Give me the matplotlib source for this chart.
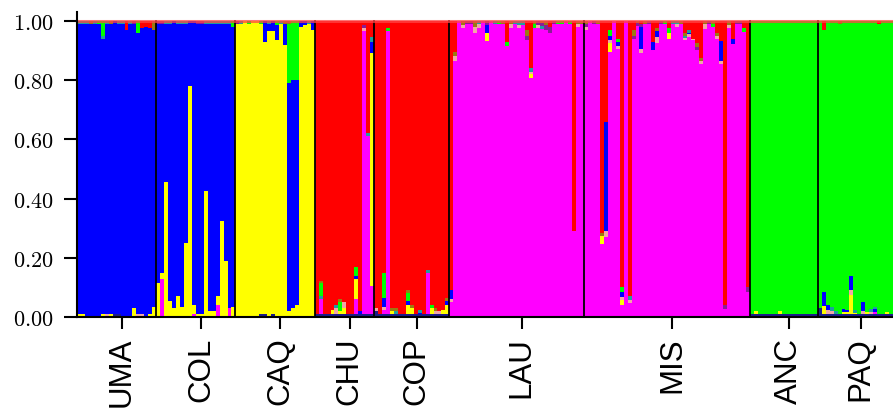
import numpy as np
import matplotlib
matplotlib.use("Agg")
import matplotlib.pyplot as plt
from matplotlib.ticker import FuncFormatter

# populations, left to right
POP_NAMES = ["UMA", "COL", "CAQ", "CHU", "COP", "LAU", "MIS", "ANC", "PAQ"]
POP_SIZES = [20, 20, 20, 15, 19, 34, 42, 17, 19]
POP_MAIN = ["B", "B", "Y", "R", "R", "M", "M", "G", "G"]

# cluster codes, stacked bottom -> top
CLUSTER_ORDER = ["n", "M", "Y", "s", "B", "t", "G", "p", "o", "R"]
CLUSTER_COLORS = {
    "n": "#1c1c8a", "M": "#ff00ff", "Y": "#ffff00", "s": "#f2a6a6",
    "B": "#0000ff", "t": "#1f9e9e", "G": "#00ff00", "p": "#8a1c96",
    "o": "#9a7a12", "R": "#ff0000",
}

# thin slivers (one char per individual, '.' = none)
SLIVER_Q = 0.01
TOP_SLIVERS = [
    "tttotGtto." "ttRtpGRRRo",
    "pptt.ttt.." "pptttttttG",
    "pt.G..G..." ".too....t.",
    ".........." ".....",
    ".........." ".........",
    "....pp...." ".t.o..t..." ".......GG." "G...",
    "..p......." "......p..p" "G.t......." ".p........" "..",
    ".........." ".......",
    ".R...o...." ".....R...",
]
BOTTOM_SLIVERS = [
    "YY....YsYn" "n...Yss.YY",
    ".........." "YY........",
    "......nn.n" "..........",
    "nnnnnnnnnn" "nnnnn",
    "nnnnnnnnnn" "nnnnnnnnn",
    ".........." ".........." ".........." "....",
    ".........." ".........." ".........." ".........." "..",
    "nnnnnnnnnn" "nnnnnnn",
    "nnnnnnnnnn" "nnnnnnnnn",
]

# individuals with visible admixture: {index: {cluster: q}}
ADMIX = [
    {6: {"G": 0.05}, 12: {"R": 0.03}, 14: {"Y": 0.03}, 15: {"G": 0.04},
     16: {"R": 0.025}, 17: {"R": 0.02}, 18: {"R": 0.025},
     19: {"o": 0.03, "Y": 0.035}},
    {0: {"Y": 0.115}, 1: {"M": 0.13, "Y": 0.02}, 2: {"Y": 0.455}, 3: {"Y": 0.055},
     4: {"Y": 0.03}, 5: {"Y": 0.07}, 6: {"Y": 0.035}, 7: {"Y": 0.25}, 8: {"Y": 0.78},
     9: {"Y": 0.03, "M": 0.01}, 12: {"Y": 0.425}, 13: {"Y": 0.02}, 14: {"Y": 0.02},
     15: {"Y": 0.03, "M": 0.04}, 16: {"Y": 0.325}, 17: {"Y": 0.19}, 18: {"M": 0.03},
     19: {"Y": 0.035, "G": 0.02}},
    {7: {"B": 0.07}, 8: {"B": 0.025, "t": 0.01}, 9: {"B": 0.035},
     10: {"B": 0.05, "G": 0.015}, 12: {"B": 0.07}, 13: {"B": 0.77, "G": 0.2},
     14: {"B": 0.77, "G": 0.2}, 15: {"B": 0.76, "G": 0.2}, 16: {"B": 0.02},
     17: {"B": 0.015}, 19: {"B": 0.03}},
    {1: {"M": 0.05, "t": 0.01, "G": 0.045, "o": 0.005}, 4: {"Y": 0.015},
     5: {"s": 0.02, "t": 0.01}, 6: {"G": 0.03, "o": 0.01, "Y": 0.01},
     7: {"s": 0.02, "Y": 0.02}, 10: {"M": 0.05, "Y": 0.07, "B": 0.01, "G": 0.03},
     11: {"B": 0.01}, 12: {"M": 0.955, "s": 0.01, "p": 0.01},
     13: {"M": 0.6, "t": 0.012}, 14: {"M": 0.095, "Y": 0.785, "B": 0.04, "t": 0.015}},
    {0: {"n": 0.02, "s": 0.01}, 2: {"M": 0.015, "s": 0.01, "B": 0.03, "G": 0.085},
     3: {"M": 0.955, "G": 0.01}, 4: {"o": 0.01, "Y": 0.01}, 5: {"t": 0.01, "o": 0.01},
     8: {"Y": 0.03, "B": 0.015, "G": 0.025, "o": 0.01}, 9: {"Y": 0.02, "o": 0.01},
     11: {"t": 0.01, "B": 0.005}, 13: {"M": 0.14, "t": 0.01}, 14: {"Y": 0.02, "G": 0.01},
     15: {"s": 0.01, "o": 0.01}, 16: {"s": 0.01}, 17: {"Y": 0.015},
     18: {"Y": 0.03, "B": 0.015, "o": 0.01}},
    {0: {"s": 0.01, "B": 0.03, "R": 0.91}, 1: {"s": 0.015, "o": 0.015, "R": 0.105},
     3: {"s": 0.01, "o": 0.015}, 6: {"o": 0.02, "s": 0.02}, 7: {"t": 0.01, "s": 0.015},
     9: {"Y": 0.028, "B": 0.025, "p": 0.015}, 12: {"G": 0.01}, 14: {"G": 0.015, "R": 0.07},
     15: {"s": 0.015, "o": 0.01}, 17: {"t": 0.015, "s": 0.01}, 18: {"t": 0.015},
     19: {"p": 0.015, "o": 0.02, "R": 0.03}, 20: {"s": 0.007, "Y": 0.015, "t": 0.012, "R": 0.16},
     21: {"G": 0.015, "o": 0.01}, 22: {"p": 0.015, "s": 0.01},
     23: {"t": 0.01, "o": 0.008, "p": 0.01}, 24: {"o": 0.015, "p": 0.015},
     25: {"p": 0.02, "R": 0.02}, 26: {"p": 0.01}, 31: {"R": 0.71},
     32: {"s": 0.01, "o": 0.012}, 33: {"o": 0.012}},
    {0: {"p": 0.01, "s": 0.01, "o": 0.01}, 3: {"o": 0.012},
     4: {"Y": 0.03, "o": 0.01, "R": 0.715}, 5: {"s": 0.02, "B": 0.37, "R": 0.34},
     6: {"s": 0.01, "Y": 0.03, "B": 0.015, "G": 0.02, "R": 0.03},
     8: {"G": 0.01, "B": 0.015, "s": 0.01, "R": 0.06},
     9: {"Y": 0.018, "s": 0.01, "B": 0.018, "G": 0.014, "R": 0.9},
     11: {"s": 0.012, "t": 0.012, "R": 0.93},
     12: {"p": 0.01, "o": 0.02, "R": 0.03}, 13: {"p": 0.01, "o": 0.008},
     14: {"s": 0.015, "B": 0.075, "p": 0.01, "R": 0.01}, 15: {"o": 0.012},
     17: {"B": 0.03, "R": 0.07}, 18: {"s": 0.018, "B": 0.02, "o": 0.01, "R": 0.025},
     21: {"Y": 0.02, "G": 0.015, "R": 0.025}, 23: {"t": 0.01, "s": 0.01},
     24: {"o": 0.012}, 25: {"s": 0.008, "t": 0.008, "o": 0.01, "R": 0.04},
     26: {"s": 0.01, "B": 0.005, "t": 0.01, "R": 0.03}, 27: {"s": 0.005, "R": 0.06},
     28: {"p": 0.01, "o": 0.012, "R": 0.075}, 29: {"s": 0.01, "o": 0.012, "R": 0.125},
     30: {"s": 0.015, "o": 0.012}, 32: {"G": 0.01, "o": 0.01},
     33: {"s": 0.01, "o": 0.01, "R": 0.04}, 34: {"s": 0.012, "B": 0.067, "R": 0.068},
     35: {"p": 0.012, "R": 0.96}, 36: {"s": 0.01, "o": 0.015}, 37: {"B": 0.017, "R": 0.06},
     38: {"p": 0.01}, 39: {"p": 0.01}, 40: {"G": 0.012, "R": 0.025},
     41: {"p": 0.015, "R": 0.9}},
    {1: {"Y": 0.01}, 7: {"Y": 0.01}},
    {0: {"n": 0.03}, 1: {"Y": 0.028, "B": 0.047, "R": 0.03}, 2: {"s": 0.012, "B": 0.018},
     3: {"t": 0.015, "s": 0.01}, 4: {"t": 0.01}, 6: {"Y": 0.008, "B": 0.01},
     7: {"Y": 0.008, "B": 0.005}, 8: {"s": 0.015, "Y": 0.065, "B": 0.05},
     9: {"t": 0.01, "Y": 0.005}, 11: {"s": 0.01, "B": 0.03}, 12: {"Y": 0.008},
     13: {"t": 0.01, "s": 0.008}, 14: {"B": 0.01, "t": 0.005, "M": 0.008},
     17: {"Y": 0.008}},
]


def build_q():
    rows = []
    for name, size, main, top, bot, adm in zip(POP_NAMES, POP_SIZES, POP_MAIN,
                                               TOP_SLIVERS, BOTTOM_SLIVERS, ADMIX):
        assert len(top) == size and len(bot) == size, (name, len(top), len(bot))
        for i in range(size):
            q = {}
            for c in (top[i], bot[i]):
                if c != ".":
                    q[c] = q.get(c, 0) + SLIVER_Q
            q.update(adm.get(i, {}))
            q[main] = 1.0 - sum(v for k, v in q.items() if k != main)
            rows.append([q.get(k, 0.0) for k in CLUSTER_ORDER])
    return np.array(rows)


Q = build_q()
n_ind = Q.shape[0]
x = np.arange(n_ind)

plt.rcParams["mathtext.fontset"] = "cm"

fig = plt.figure(figsize=(8.93, 4.10), dpi=100)
ax = fig.add_axes([77 / 893, 1 - 318 / 410, 816 / 893, (318 - 13) / 410])

bottom = np.zeros(n_ind)
for k, code in enumerate(CLUSTER_ORDER):
    ax.bar(x, Q[:, k], bottom=bottom, width=1.0, align="edge",
           color=CLUSTER_COLORS[code], linewidth=0)
    bottom += Q[:, k]

bounds = np.cumsum([0] + POP_SIZES)
for b in bounds[1:-1]:
    ax.plot([b, b], [0, 1], color="black", lw=1.3)
ax.axhline(1.0, color="#ff4545", lw=2.2, alpha=0.75, clip_on=False)

ax.set_xlim(0, n_ind)
ax.set_ylim(0, 1.03)
for side in ("top", "right"):
    ax.spines[side].set_visible(False)
ax.spines["left"].set_linewidth(1.5)
ax.spines["bottom"].set_linewidth(1.5)

ax.set_yticks([0, 0.2, 0.4, 0.6, 0.8, 1.0])
ax.yaxis.set_major_formatter(FuncFormatter(lambda v, p: f"${v:.2f}$"))
ax.tick_params(axis="y", length=9.5, width=1.5, pad=7, labelsize=16)

centers = bounds[:-1] + np.array(POP_SIZES) / 2 + 1.3
ax.set_xticks(centers)
ax.set_xticklabels(POP_NAMES, rotation=90, family="Liberation Sans", fontsize=22.5)
ax.tick_params(axis="x", length=8.6, width=1.5, pad=5.5)

fig.savefig("out.png", dpi=100)
